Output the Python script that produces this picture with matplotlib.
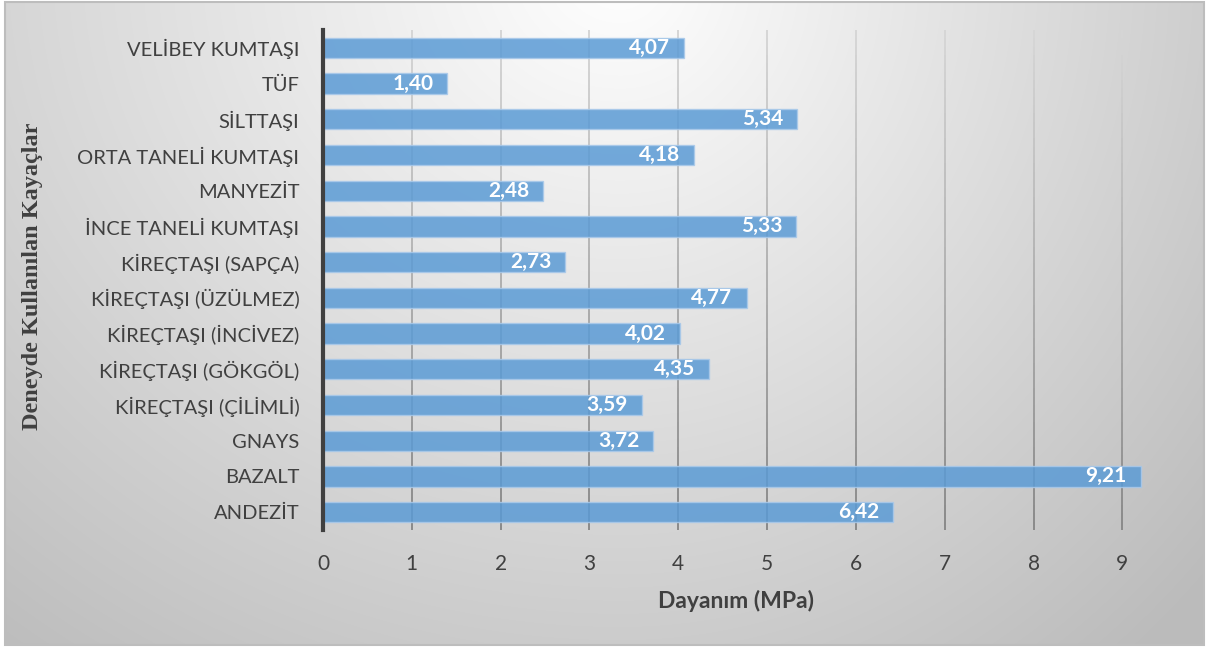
import numpy as np
import matplotlib
matplotlib.use("Agg")
import matplotlib.pyplot as plt
from matplotlib.patches import Rectangle
from matplotlib.collections import LineCollection

# Rock types tested and their measured strength (MPa)
rocks = [
    "VELİBEY KUMTAŞI", "TÜF", "SİLTTAŞI", "ORTA TANELİ KUMTAŞI", "MANYEZİT",
    "İNCE TANELİ KUMTAŞI", "KİREÇTAŞI (SAPÇA)", "KİREÇTAŞI (ÜZÜLMEZ)",
    "KİREÇTAŞI (İNCİVEZ)", "KİREÇTAŞI (GÖKGÖL)", "KİREÇTAŞI (ÇİLİMLİ)",
    "GNAYS", "BAZALT", "ANDEZİT",
]
strength = [4.07, 1.40, 5.34, 4.18, 2.48, 5.33, 2.73, 4.77, 4.02, 4.35, 3.59, 3.72, 9.21, 6.42]
x_ticks = list(range(0, 10))

W, H = 1208, 647
fig = plt.figure(figsize=(W / 100, H / 100), dpi=100, facecolor="white")

# Shaded chart-area background with a thin grey frame
bg_ax = fig.add_axes([0, 0, 1, 1], zorder=-10)
bg_ax.set_xlim(0, W)
bg_ax.set_ylim(H, 0)
bg_ax.axis("off")
yy, xx = np.mgrid[0:H, 0:W].astype(float)
cx, cy = 620.0, -30.0
sx = np.where(xx < cx, 1.25, 1.0)
d = np.sqrt(((xx - cx) / sx) ** 2 + ((yy - cy) / 1.1) ** 2)
t = np.clip(d / 700.0, 0, 1.15)
shade = 1.0 - 0.23 * t
img = np.dstack([shade, shade, shade])
x0, y0, x1, y1 = 5, 2, 1204, 645
bg_ax.imshow(img[y0:y1, x0:x1], extent=(x0, x1, y1, y0), aspect="auto",
             interpolation="bilinear")
bg_ax.add_patch(Rectangle((x0, y0), x1 - x0, y1 - y0, fill=False,
                          edgecolor="#bdbdbd", linewidth=1.5))

# Main bar chart
left_px, right_px, top_px, bot_px = 323, 1149, 30, 530
ax = fig.add_axes([left_px / W, 1 - bot_px / H,
                   (right_px - left_px) / W, (bot_px - top_px) / H])
ax.patch.set_alpha(0)

ypos = np.arange(len(rocks))
ax.barh(ypos, strength, height=0.57, color="#5b9bd5", alpha=0.85,
        edgecolor="#a9c9ea", linewidth=1.0, zorder=3)

ax.set_xlim(0, 9.3)
ax.set_ylim(len(rocks) - 0.5, -0.5)
ax.set_xticks(x_ticks)
ax.set_xticklabels([str(v) for v in x_ticks], fontsize=15, color="#404040",
                   family="Lato")
ax.set_yticks(ypos)
ax.set_yticklabels(rocks, fontsize=14.5, color="#404040", family="Lato")
ax.tick_params(axis="both", length=0)
ax.tick_params(axis="x", pad=17)
ax.tick_params(axis="y", pad=17)

# Vertical gridlines that fade from light at the top to darker at the bottom
y_lo, y_hi = len(rocks) - 0.5, -0.5
n_seg = 60
edges = np.linspace(y_hi, y_lo, n_seg + 1)
for xv in x_ticks[1:]:
    segs = [[(xv, edges[i]), (xv, edges[i + 1])] for i in range(n_seg)]
    frac = np.linspace(0, 1, n_seg)
    g = 0.84 - 0.30 * frac
    cols = np.column_stack([g, g, g, np.ones_like(g)])
    ax.add_collection(LineCollection(segs, colors=cols, linewidths=1.4,
                                     zorder=1))

for side in ("top", "right", "bottom"):
    ax.spines[side].set_visible(False)
ax.spines["left"].set_color("#404040")
ax.spines["left"].set_linewidth(3)
ax.spines["left"].set_zorder(4)

for y, v in zip(ypos, strength):
    ax.text(v - 0.16, y, f"{v:.2f}".replace(".", ","), ha="right", va="center",
            color="white", fontsize=15, fontweight="bold", family="Lato",
            zorder=5)

ax.set_xlabel("Dayanım (MPa)", fontsize=16.5, fontweight="bold",
              color="#404040", family="Lato", labelpad=12)
fig.text(33 / W, 1 - 276 / H, "Deneyde Kullanılan Kayaçlar", rotation=90,
         ha="center", va="center", fontsize=17.5, fontweight="bold",
         color="#404040", family="Liberation Serif")

fig.savefig("out.png", dpi=100, facecolor="white")
